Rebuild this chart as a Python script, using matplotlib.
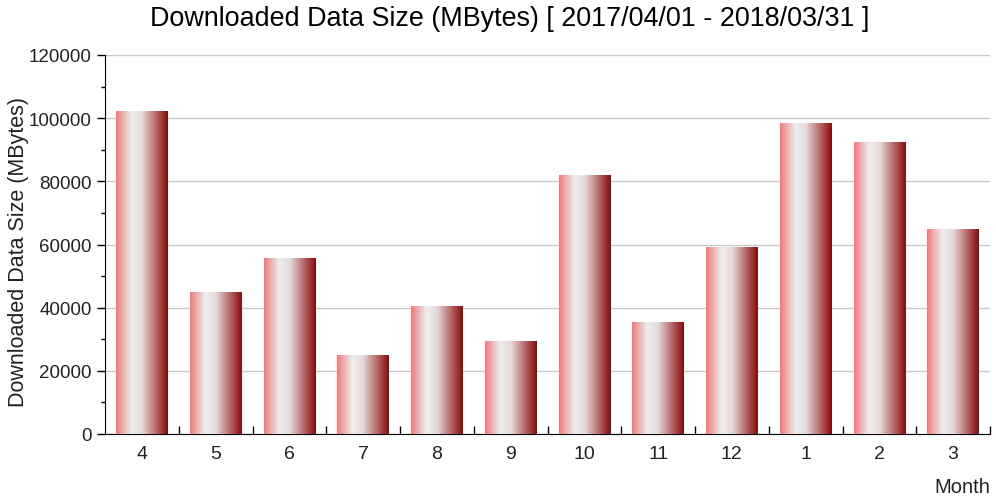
import numpy as np
import matplotlib
matplotlib.use("Agg")
import matplotlib.pyplot as plt
from matplotlib.colors import LinearSegmentedColormap

plt.rcParams['font.family'] = ['Liberation Sans', 'DejaVu Sans']

months = ["4", "5", "6", "7", "8", "9", "10", "11", "12", "1", "2", "3"]
values = [102000, 44700, 55500, 25000, 40400, 29200, 81700, 35300, 59000, 98400, 92300, 64800]
title = "Downloaded Data Size (MBytes) [ 2017/04/01 - 2018/03/31 ]"
ylabel = "Downloaded Data Size (MBytes)"
xlabel = "Month"

fig = plt.figure(figsize=(9.96, 5.02), dpi=100)
ax = fig.add_axes([105/996, 1-435/502, 885/996, 379/502])

cmap = LinearSegmentedColormap.from_list("bar", [(0.0, "#f07a7a"), (0.3, "#eeeeee"), (0.5, "#e4dada"), (1.0, "#8a0a0a")])
grad = np.linspace(0, 1, 256).reshape(1, -1)
n = len(months)
w = 0.7
x = np.arange(n)
bars = ax.bar(x, values, width=w, color='none', zorder=3)
for b in bars:
    x0 = b.get_x(); h = b.get_height()
    ax.imshow(grad, cmap=cmap, aspect='auto', extent=[x0, x0 + w, 0, h], zorder=3, interpolation='bilinear')

ax.set_xlim(-0.5, n - 0.5)
ax.set_ylim(0, 120000)
ax.set_xticks(x)
ax.set_xticklabels(months, fontsize=14, color='#222222')
ax.tick_params(axis='x', length=0, pad=8)
ax.set_xticks(np.arange(0.5, n, 1.0), minor=True)
ax.tick_params(axis='x', which='minor', direction='in', length=6, width=1)
ax.set_yticks(np.arange(0, 120001, 20000))
ax.set_yticks(np.arange(10000, 120000, 20000), minor=True)
ax.tick_params(axis='y', which='major', direction='out', length=6, labelsize=13.5, width=1, labelcolor='#222222')
ax.tick_params(axis='y', which='minor', direction='out', length=3, width=1)
ax.grid(axis='y', color='#c8c8c8', linewidth=1, zorder=0)
ax.set_axisbelow(True)
for s in ['top', 'right']:
    ax.spines[s].set_visible(False)
fig.text(510/996, 1 - 19/502, title, ha='center', va='center', fontsize=19.4)
ax.set_ylabel(ylabel, fontsize=15.5, color='#222222', va='center')
ax.yaxis.set_label_coords((18 - 105) / 885, (435 - 252) / 379)
fig.text(990/996, 1-488/502, xlabel, ha='right', va='center', fontsize=14.5, color='#222222')

fig.savefig("out.png", dpi=100)
